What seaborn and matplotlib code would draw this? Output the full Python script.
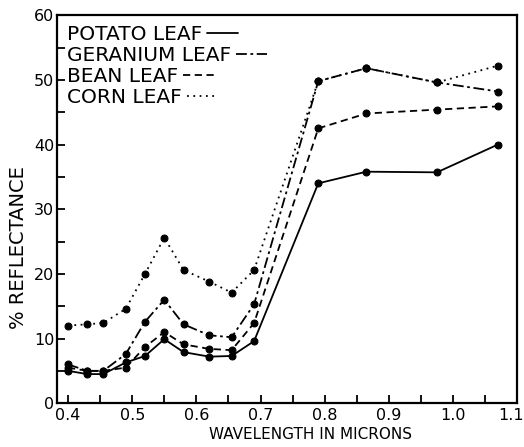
import matplotlib
matplotlib.use("Agg")
import matplotlib.pyplot as plt
import matplotlib.transforms as mtransforms
from matplotlib.lines import Line2D
import seaborn as sns
import pandas as pd

# wavelengths (microns)
wavelength = [0.40, 0.43, 0.455, 0.49, 0.52, 0.55, 0.58, 0.62, 0.655, 0.69, 0.79, 0.865, 0.975, 1.07]

potato = [5.0, 4.5, 4.5, 6.3, 7.3, 9.9, 7.9, 7.2, 7.3, 9.6, 34.0, 35.8, 35.7, 40.0]
geranium = [6.0, 5.0, 5.0, 7.6, 12.6, 16.0, 12.2, 10.5, 10.2, 15.3, 49.8, 51.8, 49.6, 48.2]
bean = [5.5, 5.0, 5.0, 5.5, 8.7, 11.0, 9.1, 8.4, 8.2, 12.4, 42.5, 44.8, 45.4, 45.9]
corn = [12.0, 12.2, 12.4, 14.6, 20.0, 25.6, 20.6, 18.8, 17.1, 20.6, 49.8, 51.8, 49.6, 52.2]

labels = ["POTATO LEAF", "GERANIUM LEAF", "BEAN LEAF", "CORN LEAF"]
xtick_vals = [0.4, 0.5, 0.6, 0.7, 0.8, 0.9, 1.0, 1.1]
xtick_labels = ["0.4", "0.5", "0.6", "0.7", "0.8", "0.9", "1.0", "1.1"]
ytick_vals = [0, 10, 20, 30, 40, 50, 60]

sns.set_style("ticks")
plt.rcParams["font.family"] = ["DejaVu Sans"]
plt.rcParams.update({"text.color": "black", "axes.labelcolor": "black",
                     "xtick.color": "black", "ytick.color": "black",
                     "axes.edgecolor": "black"})

fig = plt.figure(figsize=(5.24, 4.47), dpi=100)
ax = fig.add_axes([0.109, 0.098, 0.878, 0.868])

styles = {
    "POTATO LEAF": "-",
    "GERANIUM LEAF": (0, (6, 2, 1.5, 2)),
    "BEAN LEAF": (0, (4, 2.5)),
    "CORN LEAF": (0, (1, 2.5)),
}

for name, vals in zip(labels, [potato, geranium, bean, corn]):
    df = pd.DataFrame({"wavelength": wavelength, "reflectance": vals})
    sns.lineplot(data=df, x="wavelength", y="reflectance", ax=ax, color="black",
                 linestyle=styles[name], linewidth=1.3, marker="o", markersize=5,
                 markeredgecolor="black", markerfacecolor="black")

# legend: label text first, line sample right after it
handles = [Line2D([], [], color="black", linestyle=styles[n], linewidth=1.3) for n in labels]
leg = ax.legend(handles, labels, loc="upper left", frameon=False, markerfirst=False,
                fontsize=14.5, handlelength=1.5, handletextpad=0.25, labelspacing=0.1,
                borderaxespad=0.15, borderpad=0.35)
for col in leg._legend_handle_box.get_children():
    col.align = "left"

ax.set_xlim(0.383, 1.1)
ax.set_ylim(0, 60)
ax.set_xticks(xtick_vals)
ax.set_xticklabels(xtick_labels)
ax.set_xticks([0.45, 0.55, 0.65, 0.75, 0.85, 0.95, 1.05], minor=True)
ax.set_yticks(ytick_vals)
ax.set_yticks([5, 15, 25, 35, 45, 55], minor=True)
ax.tick_params(which="both", direction="in", labelsize=11.5, width=1.3, length=6)
ax.tick_params(axis="y", pad=2)
for s in ax.spines.values():
    s.set_linewidth(1.6)

# keep the last x label inside the figure edge
last = ax.get_xticklabels()[-1]
last.set_horizontalalignment("right")
last.set_transform(last.get_transform() + mtransforms.ScaledTranslation(7 / 100, 0, fig.dpi_scale_trans))

ax.set_xlabel("WAVELENGTH IN MICRONS", fontsize=11, labelpad=3, x=0.55)
ax.set_ylabel("% REFLECTANCE", fontsize=14, labelpad=4, y=0.40)

fig.savefig("out.png", dpi=100)
